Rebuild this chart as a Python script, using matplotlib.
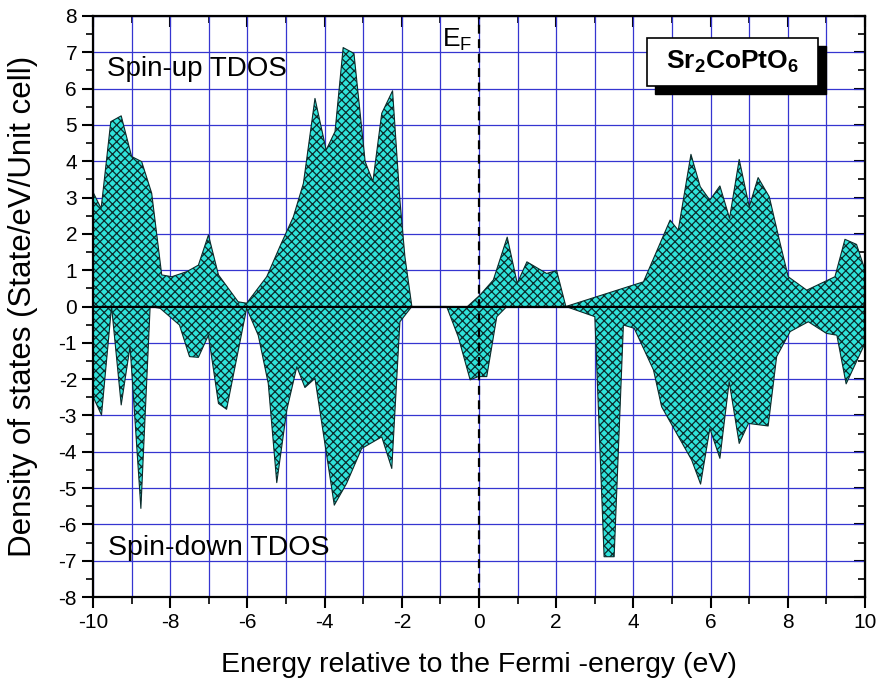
import numpy as np
import matplotlib
matplotlib.use("Agg")
import matplotlib.pyplot as plt
from matplotlib.patches import Rectangle
from matplotlib.ticker import MultipleLocator

plt.rcParams['font.family'] = ['Liberation Sans', 'DejaVu Sans']
plt.rcParams['mathtext.fontset'] = 'custom'
plt.rcParams['mathtext.rm'] = 'Liberation Sans'
plt.rcParams['mathtext.bf'] = 'Liberation Sans:bold'
plt.rcParams['axes.unicode_minus'] = False
plt.rcParams['hatch.linewidth'] = 0.9
plt.rcParams['hatch.color'] = '#0b2b2b'

# spin-up TDOS (energy, dos)
up_e = [-10, -9.79, -9.54, -9.27, -9.0, -8.74, -8.48, -8.22, -7.96, -7.57, -7.27, -7.01,
        -6.75, -6.24, -6.02, -5.5, -5.16, -4.81, -4.55, -4.25, -3.96, -3.73, -3.52, -3.24,
        -2.95, -2.75, -2.52, -2.24, -2.05, -1.92, -1.74, -0.3, 0.03, 0.37, 0.73, 0.99,
        1.24, 1.75, 2.01, 2.25, 4.26, 4.95, 5.16, 5.49, 5.73, 5.98, 6.24, 6.49, 6.74,
        7.0, 7.23, 7.52, 7.78, 8.01, 8.49, 9.22, 9.48, 9.78, 10]
up_d = [3.15, 2.7, 5.09, 5.25, 4.13, 3.99, 3.12, 0.87, 0.82, 0.96, 1.14, 1.97,
        0.87, 0.13, 0.09, 0.82, 1.65, 2.47, 3.39, 5.73, 4.31, 4.82, 7.13, 6.97,
        3.99, 3.44, 5.32, 5.94, 2.93, 1.37, 0.0, 0.0, 0.32, 0.73, 1.91, 0.64,
        1.23, 0.91, 0.99, 0.0, 0.68, 2.38, 2.1, 4.19, 3.3, 2.93, 3.32, 2.43, 4.05,
        2.75, 3.55, 3.02, 1.83, 0.82, 0.45, 0.82, 1.85, 1.71, 1.0]

# spin-down TDOS (energy, dos)
dn_e = [-10, -9.78, -9.52, -9.27, -9.04, -8.76, -8.52, -8.26, -7.76, -7.5, -7.27, -7.01,
        -6.75, -6.54, -6.02, -5.72, -5.46, -5.24, -4.98, -4.72, -4.51, -4.25, -3.75,
        -3.43, -3.04, -2.52, -2.26, -2.05, -1.74, -0.84, -0.54, -0.23, -0.02, 0.2, 0.46,
        0.72, 2.25, 3.0, 3.24, 3.5, 3.74, 4.02, 4.52, 4.73, 5.51, 5.74, 5.98, 6.24,
        6.48, 6.74, 6.98, 7.49, 7.71, 8.06, 8.53, 9.0, 9.27, 9.51, 10]
dn_d = [-2.48, -2.99, 0.0, -2.71, -1.1, -5.56, 0.0, -0.05, -0.51, -1.38, -1.4, -0.79,
        -2.67, -2.83, -0.05, -0.79, -2.12, -4.85, -2.85, -1.66, -2.23, -1.98, -5.47,
        -4.87, -3.91, -3.59, -4.46, -0.42, 0.0, 0.0, -0.83, -2.02, -1.93, -1.93, -0.28,
        0.0, 0.0, -0.28, -6.89, -6.89, -0.51, -0.6, -1.75, -2.76, -4.23, -4.89, -3.36, -4.18,
        -2.07, -3.77, -3.22, -3.29, -1.38, -0.69, -0.42, -0.74, -0.79, -2.13, -1.01]

fill_col = '#2fe3da'

fig = plt.figure(figsize=(8.8, 6.86), dpi=100)
ax = fig.add_axes([0.1057, 0.1297, 0.8773, 0.847])

for e, d in [(up_e, up_d), (dn_e, dn_d)]:
    ax.fill_between(e, 0, d, facecolor=fill_col, edgecolor='#0b2b2b',
                    hatch='xxxx', linewidth=0.8, zorder=2)

ax.axhline(0, color='black', lw=1.5, zorder=3)
ax.axvline(0, color='black', lw=1.6, ls=(0, (4, 2.5)), zorder=3)

ax.set_xlim(-10, 10)
ax.set_ylim(-8, 8)
ax.xaxis.set_major_locator(MultipleLocator(2))
ax.xaxis.set_minor_locator(MultipleLocator(1))
ax.yaxis.set_major_locator(MultipleLocator(1))
ax.yaxis.set_minor_locator(MultipleLocator(0.5))
ax.grid(which='major', axis='y', color='#3535d0', lw=0.9, zorder=0)
ax.grid(which='both', axis='x', color='#3535d0', lw=0.9, zorder=0)
ax.set_axisbelow(True)

ax.tick_params(direction='out', which='major', length=8, width=1.5, labelsize=15)
ax.tick_params(direction='out', which='minor', length=5, width=1.2)
for s in ax.spines.values():
    s.set_linewidth(1.6)

# mirrored ticks on top and right, pointing inwards
top = ax.secondary_xaxis('top')
top.xaxis.set_major_locator(MultipleLocator(2))
top.xaxis.set_minor_locator(MultipleLocator(1))
top.tick_params(direction='in', which='major', length=8, width=1.5, labeltop=False)
top.tick_params(direction='in', which='minor', length=5, width=1.2)
right = ax.secondary_yaxis('right')
right.yaxis.set_major_locator(MultipleLocator(1))
right.yaxis.set_minor_locator(MultipleLocator(0.5))
right.tick_params(direction='in', which='major', length=8, width=1.5, labelright=False)
right.tick_params(direction='in', which='minor', length=5, width=1.2)

ax.set_xlabel('Energy relative to the Fermi -energy (eV)', fontsize=20.5)
ax.xaxis.set_label_coords(0.5, -0.094)
ax.set_ylabel('Density of states (State/eV/Unit cell)', fontsize=22.5)
ax.yaxis.set_label_coords(-0.071, 0.5)

ax.text(-9.65, 6.55, 'Spin-up TDOS', fontsize=20, va='center', ha='left', zorder=4)
ax.text(-9.6, -6.65, 'Spin-down TDOS', fontsize=20.5, va='center', ha='left', zorder=4)
ax.text(-0.95, 7.35, r'E$_\mathregular{F}$', fontsize=19, va='center', ha='left', zorder=4)

# label box with drop shadow
ax.add_patch(Rectangle((0.7280, 0.8657), 0.2215, 0.0826, transform=ax.transAxes,
                       facecolor='black', edgecolor='black', zorder=5))
ax.add_patch(Rectangle((0.7176, 0.8795), 0.2215, 0.0826, transform=ax.transAxes,
                       facecolor='white', edgecolor='black', lw=1.2, zorder=6))
ax.text(0.8284, 0.9208, r'$\mathbf{Sr_2CoPtO_6}$', transform=ax.transAxes,
        fontsize=19, ha='center', va='center', zorder=7)

fig.savefig('out.png', dpi=100)
